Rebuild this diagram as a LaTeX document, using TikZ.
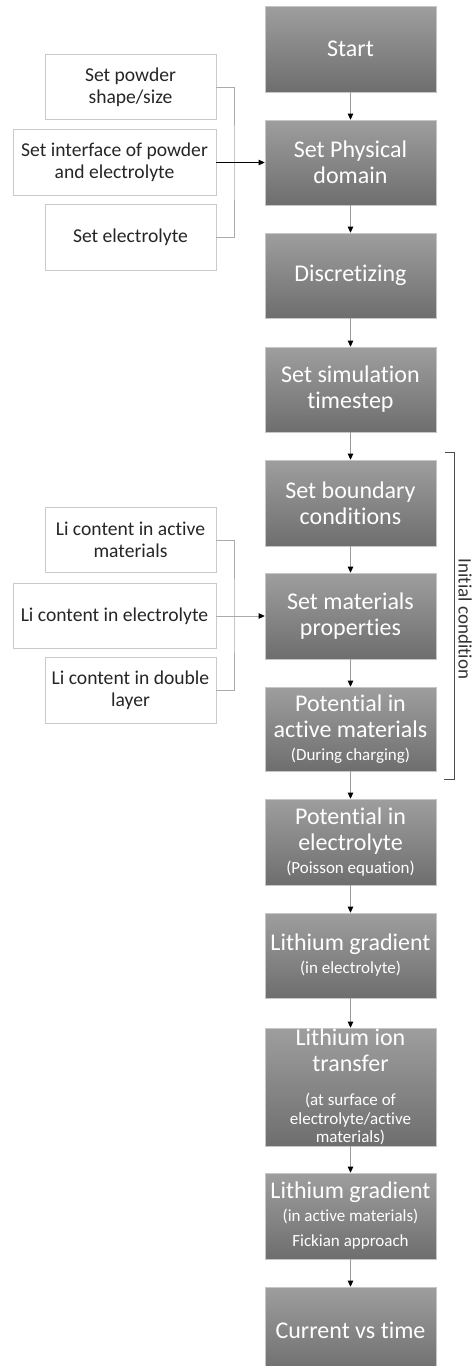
\documentclass[tikz,border=0pt]{standalone}
\usepackage{fontspec}
\setmainfont{Carlito}[Ligatures={NoCommon}]
\usetikzlibrary{arrows.meta}
\definecolor{gtop}{HTML}{9E9E9E}
\definecolor{gbot}{HTML}{6E6E6E}
\definecolor{lbord}{HTML}{CACACA}
\definecolor{brkc}{HTML}{ABABAB}
\newcommand\smallt{\fontsize{17}{19}\selectfont}
\begin{document}
\begin{tikzpicture}[x=1pt,y=-1pt,
 gbox/.style={rectangle, top color=gtop, bottom color=gbot, draw=gray!45, line width=0.6pt, text=white, minimum width=171pt, inner sep=0pt, align=center, font=\fontsize{24}{26}\selectfont},
 wbox/.style={rectangle, draw=lbord, fill=white, line width=0.8pt, minimum height=65.5pt, align=center, inner sep=0pt, font=\fontsize{19.6}{22}\selectfont, text=black!85},
 flow/.style={draw=gray!80, line width=0.7pt, -{Triangle[color=black,length=6pt,width=5.5pt]}},
 brk/.style={draw=brkc, line width=0.8pt},
 ]
\useasboundingbox (0,0) rectangle (473,1366);
\clip (0,0) rectangle (473,1366);
% main column
\node[gbox, minimum height=86pt] (start) at (350.5,49) {Start};
\node[gbox, minimum height=85pt] (phys) at (350.5,162.5) {Set Physical\\domain};
\node[gbox, minimum height=85pt] (disc) at (350.5,275.5) {Discretizing};
\node[gbox, minimum height=85pt] (tstep) at (350.5,389.5) {Set simulation\\timestep};
\node[gbox, minimum height=86pt] (bc) at (350.5,503) {Set boundary\\conditions};
\node[gbox, minimum height=86pt] (mat) at (350.5,616) {Set materials\\properties};
\node[gbox, minimum height=84pt] (pa) at (350.5,729) {Potential in\\active materials\\[-3pt]{\smallt (During charging)}};
\node[gbox, minimum height=86pt] (pe) at (350.5,842) {Potential in\\electrolyte\\[-3pt]{\smallt (Poisson equation)}};
\node[gbox, minimum height=85pt] (lg) at (350.5,955.5) {Lithium gradient\\[-3pt]{\smallt (in electrolyte)}};
\node[gbox, minimum height=118pt] (it) at (350.5,1087) {Lithium ion\\transfer\\[8pt]{\smallt (at surface of}\\[-7.5pt]{\smallt electrolyte/active}\\[-7.5pt]{\smallt materials)}};
\node[gbox, minimum height=86pt] (lga) at (350.5,1216) {Lithium gradient\\[-3pt]{\smallt (in active materials)}\\[-1pt]{\smallt Fickian approach}};
\node[gbox, minimum height=86pt] (cur) at (350.5,1330) {Current vs time};
\draw[flow] (start) -- (phys);
\draw[flow] (phys) -- (disc);
\draw[flow] (disc) -- (tstep);
\draw[flow] (tstep) -- (bc);
\draw[flow] (bc) -- (mat);
\draw[flow] (mat) -- (pa);
\draw[flow] (pa) -- (pe);
\draw[flow] (pe) -- (lg);
\draw[flow] (lg) -- (it);
\draw[flow] (it) -- (lga);
\draw[flow] (lga) -- (cur);
% group 1
\node[wbox, minimum width=171pt] (a1) at (130.5,87) {Set powder\\shape/size};
\node[wbox, minimum width=203pt] (a2) at (114.5,162.5) {Set interface of powder\\and electrolyte};
\node[wbox, minimum width=171pt] (a3) at (130.5,237.5) {Set electrolyte};
\coordinate (j1) at (234,162.5);
\draw[brk] (a1.east) -| (j1) |- (a3.east);
\draw[line width=0.7pt, black, -{Triangle[length=6pt,width=5.5pt]}] (a2.east) -- (phys.west);
% group 2
\node[wbox, minimum width=171pt] (d1) at (130.5,540) {Li content in active\\materials};
\node[wbox, minimum width=203pt] (d2) at (114.5,616) {Li content in electrolyte};
\node[wbox, minimum width=171pt] (d3) at (130.5,690.5) {Li content in double\\layer};
\coordinate (j2) at (234,616);
\draw[brk] (d1.east) -| (j2) |- (d3.east);
\draw[flow, draw=brkc] (d2.east) -- (mat.west);
% initial condition bracket
\coordinate (i1) at (445,452);
\coordinate (i2) at (454,452);
\coordinate (i3) at (454,779);
\coordinate (i4) at (444,779);
\draw[line width=0.8pt, draw=black!70] (i1) -- (i2) -- (i3) -- (i4);
\node[rotate=-90, anchor=base, font=\fontsize{19}{22}\selectfont, text=black!80] (ic) at (458.5,619) {Initial condition};
\end{tikzpicture}
\end{document}
